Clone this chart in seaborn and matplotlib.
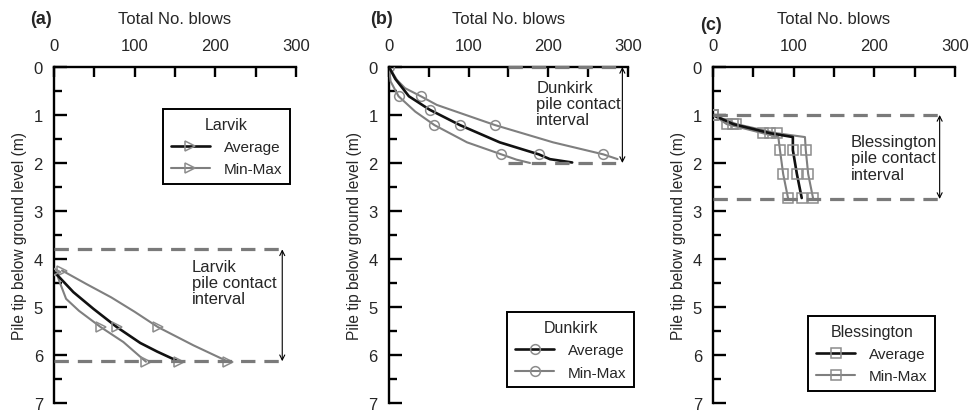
import matplotlib
matplotlib.use("Agg")
import matplotlib.pyplot as plt
from matplotlib.lines import Line2D
from matplotlib.ticker import MultipleLocator
import seaborn as sns

sns.set_theme(style="ticks")
plt.rcParams["font.family"] = ["Liberation Sans", "DejaVu Sans"]

# ---------------- data: total blows vs pile tip depth (m) ----------------
# Larvik
larvik_avg_blows = [1, 24, 49, 78, 107, 128, 155]
larvik_avg_depth = [4.28, 4.69, 5.04, 5.42, 5.75, 5.93, 6.14]
larvik_min_blows = [3, 7, 15, 31, 58, 86, 114]
larvik_min_depth = [4.28, 4.48, 4.83, 5.08, 5.42, 5.73, 6.14]
larvik_max_blows = [10, 40, 71, 100, 129, 173, 216]
larvik_max_depth = [4.24, 4.52, 4.80, 5.10, 5.42, 5.80, 6.14]
larvik_marked = [0, 4, 6]
larvik_avg_marked = [0, 3, 6]
larvik_interval = [3.80, 6.13]

# Dunkirk
dunkirk_avg_blows = [0, 8, 25, 51, 89, 139, 188, 202, 230]
dunkirk_avg_depth = [0.0, 0.25, 0.61, 0.89, 1.21, 1.57, 1.82, 1.92, 1.99]
dunkirk_min_blows = [0, 2, 12, 33, 57, 98, 141, 160, 177]
dunkirk_min_depth = [0.0, 0.30, 0.61, 0.93, 1.21, 1.57, 1.82, 1.93, 2.00]
dunkirk_max_blows = [0, 10, 20, 40, 60, 133, 206, 269, 287]
dunkirk_max_depth = [0.0, 0.27, 0.44, 0.61, 0.79, 1.21, 1.57, 1.82, 1.92]
dunkirk_avg_marked = [3, 4, 6]
dunkirk_min_marked = [0, 2, 4, 6]
dunkirk_max_marked = [3, 5, 7]
dunkirk_interval = [0.0, 2.0]

# Blessington
bless_avg_blows = [0, 25, 71, 99, 99, 104, 110]
bless_min_blows = [0, 17, 62, 81, 83, 87, 93]
bless_max_blows = [0, 29, 79, 114, 115, 118, 124]
bless_depth = [1.0, 1.19, 1.38, 1.46, 1.73, 2.23, 2.73]
bless_marked = [0, 1, 2, 4, 5, 6]
bless_interval = [1.0, 2.75]

blow_ticks = [0, 100, 200, 300]
depth_ticks = [0, 1, 2, 3, 4, 5, 6, 7]

BLACK = "#111111"
GREY = "#7f7f7f"
MEDGE = "#8c8c8c"
DASH = "#7a7a7a"

fig = plt.figure(figsize=(9.71, 4.14), dpi=100)
boxes = [(0.0556, 0.0242, 0.2492, 0.8116),
         (0.4006, 0.0242, 0.2461, 0.8116),
         (0.7343, 0.0242, 0.2492, 0.8116)]
axes = [fig.add_axes(b) for b in boxes]


def style_axis(ax):
    ax.set_xlim(0, 300)
    ax.set_ylim(7, 0)
    ax.xaxis.tick_top()
    ax.xaxis.set_label_position("top")
    ax.set_xticks(blow_ticks)
    ax.xaxis.set_minor_locator(MultipleLocator(50))
    ax.set_yticks(depth_ticks)
    ax.yaxis.set_minor_locator(MultipleLocator(0.5))
    for s in ("right", "bottom"):
        ax.spines[s].set_visible(False)
    for s in ("top", "left"):
        ax.spines[s].set_linewidth(1.7)
        ax.spines[s].set_color("black")
    ax.tick_params(axis="x", which="both", direction="in", length=7, width=1.7,
                   labelsize=12, pad=10, top=True, bottom=False, color="black")
    ax.tick_params(axis="y", which="major", direction="in", length=9, width=1.7,
                   labelsize=12, pad=8, color="black")
    ax.tick_params(axis="y", which="minor", direction="in", length=5.5, width=1.7,
                   color="black")
    ax.set_xlabel("Total No. blows", fontsize=12, labelpad=11)
    ax.set_ylabel("Pile tip below ground level (m)", fontsize=11.2, labelpad=5)
    ax.set_facecolor("white")


def draw_series(ax, blows, depth, color, lw, marker, marked):
    sns.lineplot(x=blows, y=depth, ax=ax, sort=False, estimator=None,
                 color=color, linewidth=lw, marker=marker, markersize=7,
                 markerfacecolor="none", markeredgecolor=MEDGE,
                 markeredgewidth=1.1, markevery=marked, legend=False, zorder=3)


def draw_interval(ax, depths, x0, x1, xarrow, text, tx, ty):
    for d in depths:
        ax.plot([x0, x1], [d, d], color=DASH, lw=2.3, linestyle=(0, (4.5, 2.8)),
                zorder=4, clip_on=False)
    ax.annotate("", xy=(xarrow, depths[0]), xytext=(xarrow, depths[1]),
                arrowprops=dict(arrowstyle="<->", lw=0.8, color="black",
                                shrinkA=0, shrinkB=0, mutation_scale=9))
    ax.text(tx, ty, text, fontsize=12, va="top", ha="left", linespacing=1.1)


def add_legend(ax, title, marker, anchor):
    handles = [
        Line2D([], [], color=BLACK, lw=1.9, marker=marker, markersize=7,
               markerfacecolor="none", markeredgecolor=MEDGE, markeredgewidth=1.1),
        Line2D([], [], color=GREY, lw=1.5, marker=marker, markersize=7,
               markerfacecolor="none", markeredgecolor=MEDGE, markeredgewidth=1.1),
    ]
    leg = ax.legend(handles, ["Average", "Min-Max"], title=title, loc="upper left",
                    bbox_to_anchor=anchor, borderaxespad=0, fontsize=11,
                    title_fontsize=11.5, frameon=True, fancybox=False,
                    handlelength=2.6, handletextpad=0.9, borderpad=0.5,
                    labelspacing=0.55)
    leg.get_frame().set_edgecolor("black")
    leg.get_frame().set_linewidth(1.4)
    leg.get_frame().set_alpha(1)


# (a) Larvik
ax = axes[0]
style_axis(ax)
draw_series(ax, larvik_min_blows, larvik_min_depth, GREY, 1.5, ">", larvik_marked)
draw_series(ax, larvik_max_blows, larvik_max_depth, GREY, 1.5, ">", larvik_marked)
draw_series(ax, larvik_avg_blows, larvik_avg_depth, BLACK, 1.9, ">", larvik_avg_marked)
draw_interval(ax, larvik_interval, 0, 287, 283, "Larvik\npile contact\ninterval", 171, 4.0)
add_legend(ax, "Larvik", ">", (0.45, 0.875))

# (b) Dunkirk
ax = axes[1]
style_axis(ax)
draw_series(ax, dunkirk_min_blows, dunkirk_min_depth, GREY, 1.5, "o", dunkirk_min_marked)
draw_series(ax, dunkirk_max_blows, dunkirk_max_depth, GREY, 1.5, "o", dunkirk_max_marked)
draw_series(ax, dunkirk_avg_blows, dunkirk_avg_depth, BLACK, 1.9, "o", dunkirk_avg_marked)
draw_interval(ax, dunkirk_interval, 150, 290, 293, "Dunkirk\npile contact\ninterval", 185, 0.27)
add_legend(ax, "Dunkirk", "o", (0.494, 0.27))

# (c) Blessington
ax = axes[2]
style_axis(ax)
draw_series(ax, bless_min_blows, bless_depth, GREY, 1.5, "s", bless_marked)
draw_series(ax, bless_max_blows, bless_depth, GREY, 1.5, "s", bless_marked)
draw_series(ax, bless_avg_blows, bless_depth, BLACK, 1.9, "s", bless_marked)
draw_interval(ax, bless_interval, 0, 285, 281, "Blessington\npile contact\ninterval", 171, 1.4)
add_legend(ax, "Blessington", "s", (0.393, 0.259))

for label, x, y in (("(a)", 30, 19), ("(b)", 370, 19), ("(c)", 700, 25)):
    fig.text(x / 971, 1 - y / 414, label, fontsize=13, fontweight="bold",
             ha="left", va="center")

fig.savefig("out.png", dpi=100, facecolor="white")
